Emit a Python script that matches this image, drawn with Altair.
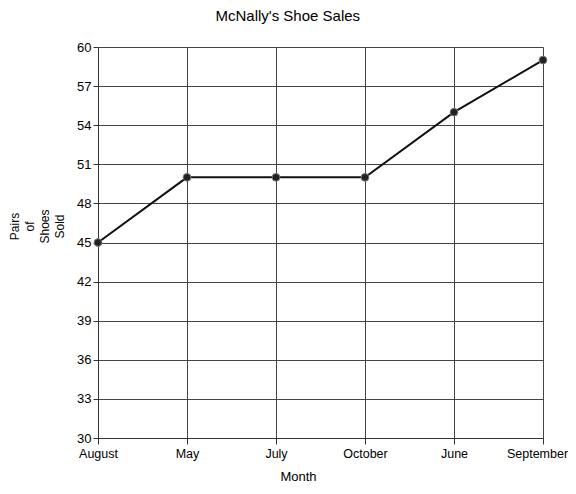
import altair as alt
import pandas as pd

months = ["August", "May", "July", "October", "June", "September"]
pairs = [45, 50, 50, 50, 55, 59]
y_ticks = [30, 33, 36, 39, 42, 45, 48, 51, 54, 57, 60]

df = pd.DataFrame({"Month": months, "Pairs": pairs})

x = alt.X("Month:N", sort=months,
          scale=alt.Scale(type="point", padding=0),
          axis=alt.Axis(title="Month", labelAngle=0, labelFontSize=12.5, titleFontSize=13,
                        titleFontWeight="normal", titleX=200, titlePadding=11,
                        labelOffset={"expr": "datum.value == 'September' ? -6 : 0"},
                        labelPadding=3, tickSize=6, grid=True))
y = alt.Y("Pairs:Q", scale=alt.Scale(domain=[30, 60], nice=False, zero=False),
          axis=alt.Axis(values=y_ticks, title=["Pairs", "of", "Shoes", "Sold"],
                        labelFontSize=13, titleFontSize=12, titleFontWeight="normal",
                        titleLineHeight=15, titleAlign="center", titleBaseline="top",
                        titleX=-89, titleY=179, titleAngle=-90,
                        labelPadding=2, tickSize=5, grid=True))

base = alt.Chart(df).encode(x=x, y=y)
line = base.mark_line(color="#111", strokeWidth=2)
pts = base.mark_point(filled=True, color="#222", size=60, opacity=1,
                      stroke="#777", strokeWidth=1)

chart = (line + pts).properties(
    width=445, height=391,
    title=alt.TitleParams("McNally's Shoe Sales", fontSize=15, fontWeight="normal",
                          offset=17, frame="bounds", anchor="middle"),
    autosize=alt.AutoSizeParams(type="none"),
    padding={"left": 90, "top": 39, "right": 25, "bottom": 45},
).configure_view(stroke=None).configure_axis(
    domainColor="#333", tickColor="#333", gridColor="#444", gridOpacity=1,
    labelColor="#000", titleColor="#000", labelFont="Liberation Sans",
    titleFont="Liberation Sans", domainWidth=1, gridWidth=1,
).configure_title(font="Liberation Sans", color="#000")

chart.save("out.html", embed_options={"renderer": "svg", "actions": False})
